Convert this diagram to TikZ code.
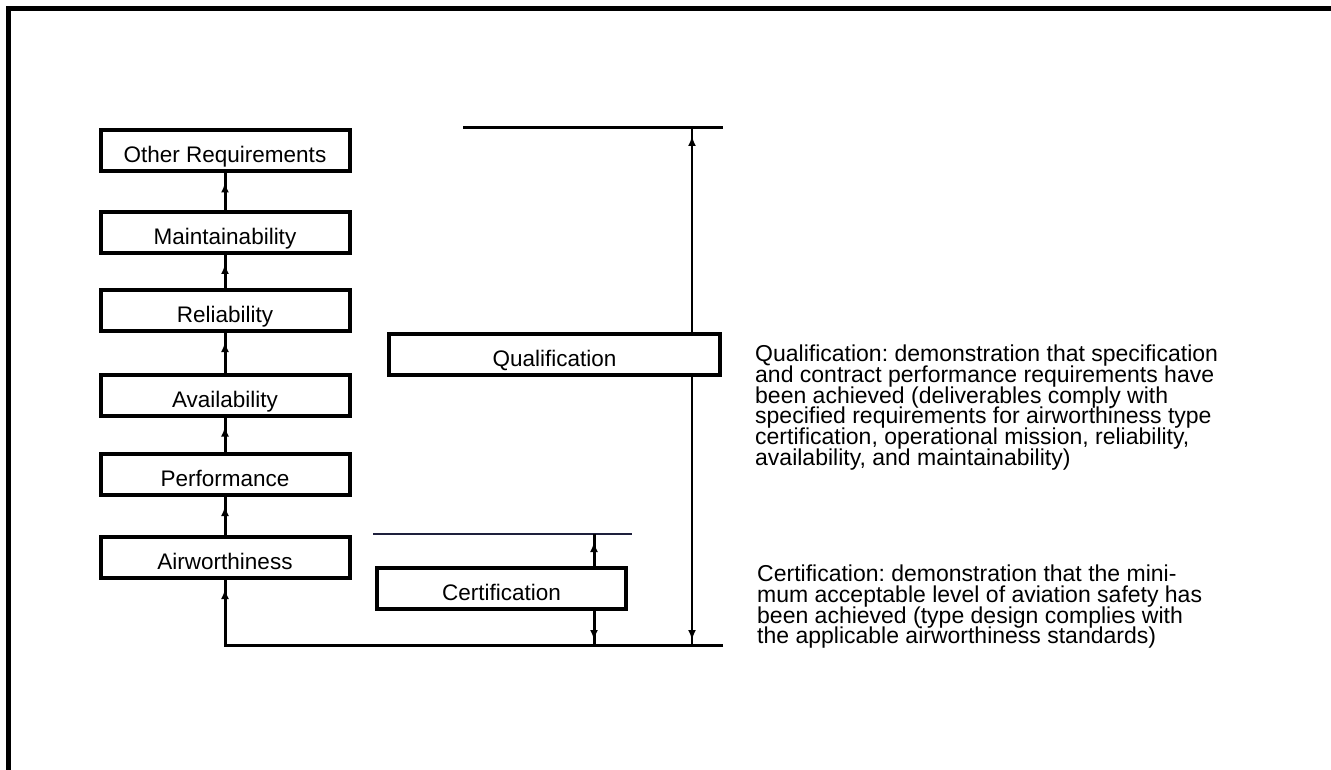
\documentclass[tikz,border=0pt]{standalone}
\usepackage{fontspec}
\setmainfont{Liberation Sans}
\usetikzlibrary{arrows.meta,decorations.markings}

% tight leading for the description paragraphs
\setlength{\lineskiplimit}{-30pt}
\frenchspacing

\tikzset{
  reqbox/.style={draw=black, fill=white, line width=4pt, minimum width=249pt,
    minimum height=41pt, inner sep=0pt, text height=24pt, text depth=0pt,
    font=\fontsize{22.5}{24}\selectfont},
  link/.style={line width=3pt, postaction=decorate,
    decoration={markings,
      mark=at position -9pt with {\arrow{Latex[length=10pt,width=8pt]}}}},
  span/.style={postaction=decorate,
    decoration={markings,
      mark=at position 5pt with {\arrowreversed{Latex[length=10pt,width=8pt]}},
      mark=at position -8pt with {\arrow{Latex[length=10pt,width=8pt]}}}},
  note/.style={anchor=north west, inner sep=0pt, align=left,
    font=\fontsize{23}{20.7}\selectfont},
}

\begin{document}
\begin{tikzpicture}[x=1pt,y=-1pt]
  \useasboundingbox (0,0) rectangle (1331,770);

  % frame
  \draw[line width=5pt] (8.5,770) -- (8.5,8.5) -- (1331,8.5);

  % reference levels
  \coordinate (qL) at (463,128);
  \coordinate (qR) at (723,128);
  \coordinate (cL) at (373,534);
  \coordinate (cR) at (632,534);
  \draw[line width=3pt] (qL) -- (qR);
  \draw[line width=2.5pt, draw={rgb,255:red,30;green,32;blue,60}] (cL) -- (cR);

  % base line
  \coordinate (bl) at (225,645);
  \coordinate (br) at (723,645);
  \coordinate (qb) at (692,645);
  \coordinate (qt) at (692,128);
  \coordinate (cb) at (594,645);
  \coordinate (ct) at (594,534);

  % requirement stack
  \node[reqbox] (other) at (225,151)   {Other Requirements};
  \node[reqbox] (maint) at (225,232.5) {Maintainability};
  \node[reqbox] (rel)   at (225,310.5) {Reliability};
  \node[reqbox] (avail) at (225,395)   {Availability};
  \node[reqbox] (perf)  at (225,474.5) {Performance};
  \node[reqbox] (air)   at (225,557.5) {Airworthiness};

  \draw[link] (maint.north) -- (other.south);
  \draw[link] (rel.north)   -- (maint.south);
  \draw[link] (avail.north) -- (rel.south);
  \draw[link] (perf.north)  -- (avail.south);
  \draw[link] (air.north)   -- (perf.south);
  \draw[link] (br) -- (bl) -- (air.south);

  % demonstration spans
  \draw[line width=2pt, span] (qb) -- (qt);
  \draw[line width=3pt, span] (cb) -- (ct);

  \node[reqbox, minimum width=331pt] (qual) at (554.5,354.5) {Qualification};
  \node[reqbox, minimum width=249pt] (cert) at (501.5,588.5) {Certification};

  % descriptions
  \node[note] (qtext) at (755,345) {Qualification: demonstration that specification\\
and contract performance requirements have\\
been achieved (deliverables comply with\\
specified requirements for airworthiness type\\
certification, operational mission, reliability,\\
availability, and maintainability)};
  \node[note] (ctext) at (757,565) {Certification: demonstration that the mini-\\
mum acceptable level of aviation safety has\\
been achieved (type design complies with\\
the applicable airworthiness standards)};
\end{tikzpicture}
\end{document}
